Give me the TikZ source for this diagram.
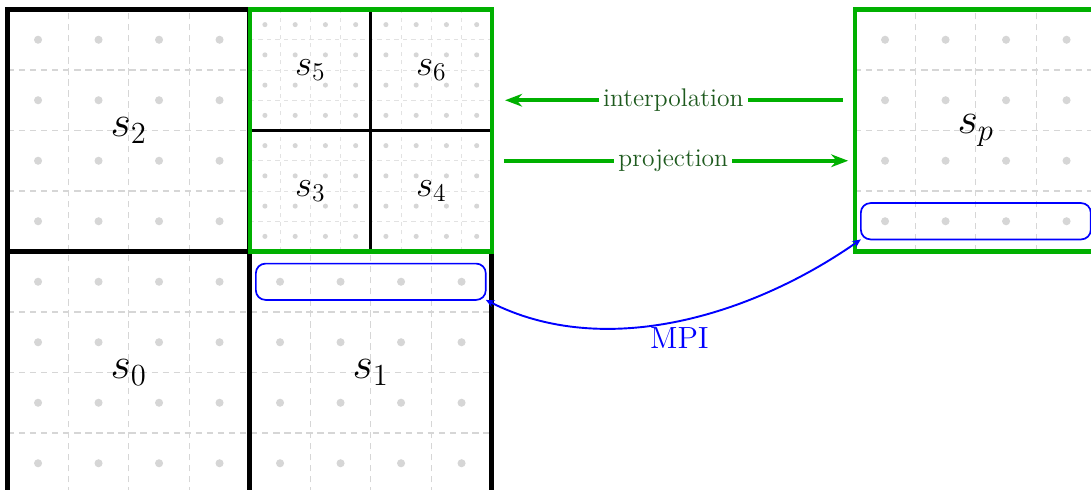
\documentclass[tikz,border=0pt]{standalone}
\usepackage{xcolor}
\usetikzlibrary{arrows.meta}
\definecolor{mesh-green}{HTML}{00B000}
\definecolor{label-green}{HTML}{1E5A1E}
\definecolor{grid-gray}{HTML}{D6D6D6}
\definecolor{fine-gray}{HTML}{E2E2E2}

\begin{document}
\begin{tikzpicture}[
      coarse/.style={draw=grid-gray, line width=0.6pt, dash pattern=on 3pt off 2.2pt},
      fine/.style={draw=fine-gray, line width=0.4pt, dash pattern=on 2pt off 2pt},
      block/.style={draw=black, line width=2.4pt, minimum size=4cm,
                    inner sep=0pt, outer sep=0pt, font=\huge},
      sub/.style={draw=black, line width=1.4pt, minimum size=2cm,
                  inner sep=0pt, outer sep=0pt, font=\LARGE},
      halo/.style={draw=blue, line width=0.8pt, rounded corners=4.5pt,
                   minimum width=3.8cm, minimum height=0.6cm,
                   inner sep=0pt, outer sep=0pt},
      flow/.style={mesh-green, line width=1.9pt},
      flowlabel/.style={fill=white, text=label-green, font=\large, inner sep=2pt}]
    \useasboundingbox (-0.129,0.058) rectangle (17.904,8.157);
    \clip (-0.129,0.058) rectangle (17.904,8.157);

    % background meshes
    \draw[coarse] (0,0) grid (8,4);
    \draw[coarse] (0,4) grid (4,8);
    \draw[coarse] (14,4) grid (18,8);
    \draw[fine] (4,4) grid[step=0.5] (8,8);
    \foreach \x in {0,...,7}
      \foreach \y in {0,...,3}
        \fill[grid-gray] (\x+0.5,\y+0.5) circle (1.9pt);
    \foreach \x in {0,...,3}
      \foreach \y in {4,...,7}
        \fill[grid-gray] (\x+0.5,\y+0.5) circle (1.9pt);
    \foreach \x in {14,...,17}
      \foreach \y in {4,...,7}
        \fill[grid-gray] (\x+0.5,\y+0.5) circle (1.9pt);
    \foreach \x in {0,...,7}
      \foreach \y in {0,...,7}
        \fill[grid-gray] (4.25+\x/2,4.25+\y/2) circle (1.2pt);

    % subdomains
    \node[block] (s0) at (2,2) {$s_0$};
    \node[block] (s1) at (6,2) {$s_1$};
    \node[block] (s2) at (2,6) {$s_2$};
    \node[sub] (s3) at (5,5) {$s_3$};
    \node[sub] (s4) at (7,5) {$s_4$};
    \node[sub] (s5) at (5,7) {$s_5$};
    \node[sub] (s6) at (7,7) {$s_6$};
    \node[block, draw=mesh-green, line width=1.9pt] (fine) at (6,6) {};
    \node[block, draw=mesh-green, line width=1.9pt] (sp) at (16,6) {$s_p$};

    % ghost layers
    \node[halo] (ghost1) at (6,3.5) {};
    \node[halo] (ghostp) at (16,4.5) {};

    \draw[flow, {Stealth[length=8pt, width=6pt]}-, shorten <=0.22cm, shorten >=0.2cm]
      ([yshift=5mm]fine.east) -- node[flowlabel] {interpolation} ([yshift=5mm]sp.west);
    \draw[flow, -{Stealth[length=8pt, width=6pt]}, shorten <=0.2cm, shorten >=0.11cm]
      ([yshift=-5mm]fine.east) -- node[flowlabel] {projection} ([yshift=-5mm]sp.west);
    \draw[blue, line width=0.9pt, {Stealth[length=4pt, width=3.5pt]}-{Stealth[length=4pt, width=3.5pt]}]
      (ghost1.south east) to[out=-27, in=-145, out distance=2.2cm, in distance=2.2cm]
      (ghostp.south west);
    \node[blue, font=\Large] (mpi) at (11.1,2.57) {MPI};
  \end{tikzpicture}
\end{document}
